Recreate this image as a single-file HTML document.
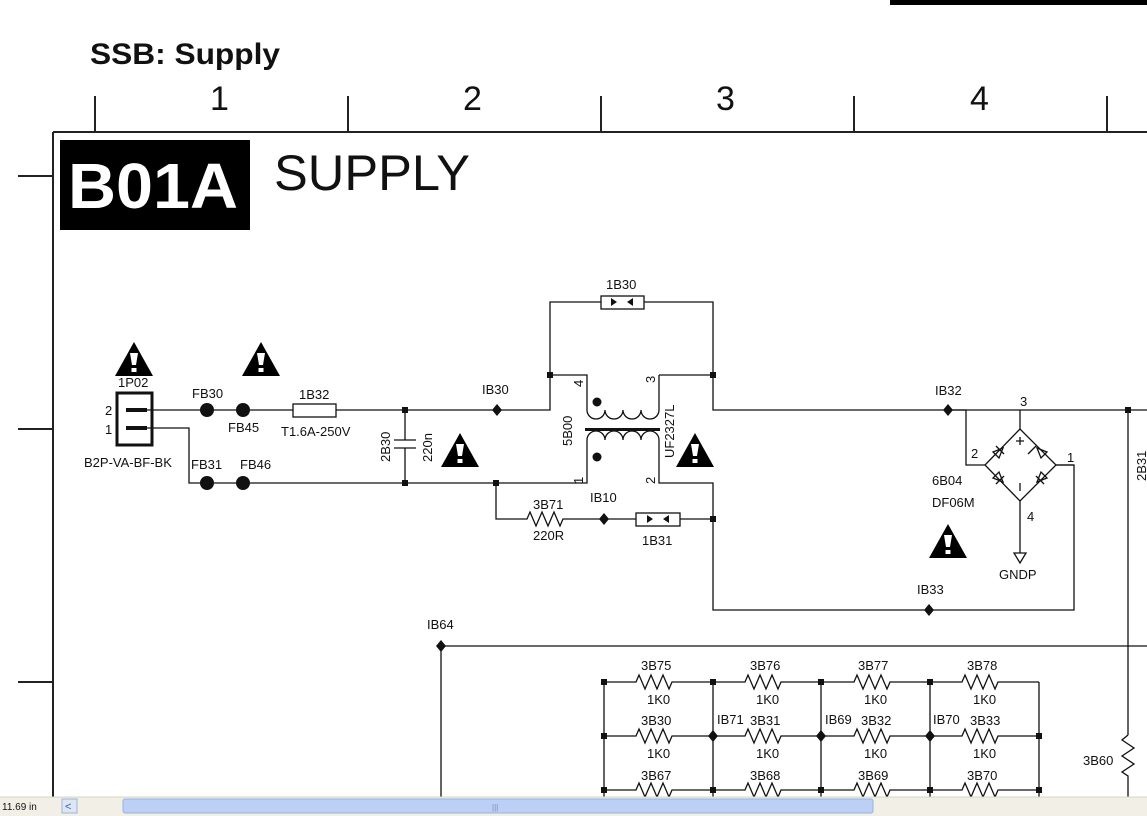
<!DOCTYPE html>
<html><head><meta charset="utf-8"><style>
html,body{margin:0;padding:0;background:#fff;width:1147px;height:816px;overflow:hidden}
svg{display:block}
text{font-family:"Liberation Sans",Arial,sans-serif;fill:#111}
</style></head><body>
<svg width="1147" height="816" viewBox="0 0 1147 816" xmlns="http://www.w3.org/2000/svg">
<defs>
<g id="warn"><polygon points="-19,17 0,-17 19,17" fill="#000"/><polygon points="-4,-6 4,-6 2,6 -2,6" fill="#fff"/><rect x="-2.5" y="9" width="5" height="4" fill="#fff"/></g>
</defs>
<rect x="890" y="0" width="257" height="5" fill="#000"/>
<text x="90" y="64" font-size="30" font-weight="bold" textLength="190" lengthAdjust="spacingAndGlyphs">SSB: Supply</text>
<g stroke="#222" stroke-width="2" fill="none">
<path d="M95 96V132M348 96V132M601 96V132M854 96V132M1107 96V132"/>
<path d="M53 132H1147M53 132V797M18 176H53M18 429H53M18 682H53"/>
</g>
<g font-size="34" fill="#222"><text x="210" y="110">1</text><text x="463" y="110">2</text><text x="716" y="110">3</text><text x="970" y="110">4</text></g>
<rect x="60" y="140" width="190" height="90" fill="#000"/>
<text x="68" y="208" font-size="64" font-weight="bold" style="fill:#fff" textLength="170" lengthAdjust="spacingAndGlyphs">B01A</text>
<text x="274" y="190" font-size="50" fill="#222" textLength="196" lengthAdjust="spacingAndGlyphs">SUPPLY</text>

<g stroke="#111" stroke-width="1.3" fill="none">
<path d="M147 410H293M336 410H550V302H601M644 302H713V410H1147"/>
<path d="M147 428H189V483H587V450"/>
<path d="M550 375H587V392M659 375H713M659 375V392"/>
<path d="M659 450V483H713V610H1074V465H1056"/>
<path d="M496 483V519H527l3 -7 l6 14 l6 -14 l6 14 l6 -14 l6 14 l3 -7 H636M680 519H713"/>
<path d="M405 410V440M405 448V483M394 440H416M394 448H416"/>
<path d="M587 392V410 a9 9 0 0 0 18 0 a9 9 0 0 0 18 0 a9 9 0 0 0 18 0 a9 9 0 0 0 18 0V392"/>
<path d="M587 450V440 a9 9 0 0 1 18 0 a9 9 0 0 1 18 0 a9 9 0 0 1 18 0 a9 9 0 0 1 18 0V450"/>
<rect x="293" y="404" width="43" height="13"/>
<rect x="601" y="296" width="43" height="13"/>
<rect x="636" y="513" width="44" height="13"/>
<path d="M948 410H966V465H985M1020 410V429M1020 501V553M1074 465H1056"/>
<path d="M1020 429L985 465L1020 501L1056 465Z"/>
<path d="M1014 553h12l-6 10z"/>
<path d="M1016 441h8M1020 437v8M1020 483v8"/>
<path d="M996 446l8 8M1036 446l-8 8M996 484l8-8M1044 484l-8-8"/>
<path d="M1003 448l-10 4l6 6zM1037 448l10 4l-6 6zM1003 482l-10-4l6-6zM1037 482l10-4l-6-6z"/>
<path d="M441 646H1147M441 646V797M1128 735l-6 5 l12 8 l-12 8 l12 8 l-12 8 l6 4 V797M1128 410V735"/>
<path d="M604 682V797M713 682V797M821 682V797M930 682V797M1039 682V797"/>
</g>
<g stroke="#111" stroke-width="1.3" fill="none">
<path d="M604 682H636l3 -7 l6 14 l6 -14 l6 14 l6 -14 l6 14 l3 -7 H713H745l3 -7 l6 14 l6 -14 l6 14 l6 -14 l6 14 l3 -7 H821H854l3 -7 l6 14 l6 -14 l6 14 l6 -14 l6 14 l3 -7 H930H962l3 -7 l6 14 l6 -14 l6 14 l6 -14 l6 14 l3 -7 H1039"/>
<path d="M604 736H636l3 -7 l6 14 l6 -14 l6 14 l6 -14 l6 14 l3 -7 H713H745l3 -7 l6 14 l6 -14 l6 14 l6 -14 l6 14 l3 -7 H821H854l3 -7 l6 14 l6 -14 l6 14 l6 -14 l6 14 l3 -7 H930H962l3 -7 l6 14 l6 -14 l6 14 l6 -14 l6 14 l3 -7 H1039"/>
<path d="M604 790H636l3 -7 l6 14 l6 -14 l6 14 l6 -14 l6 14 l3 -7 H713H745l3 -7 l6 14 l6 -14 l6 14 l6 -14 l6 14 l3 -7 H821H854l3 -7 l6 14 l6 -14 l6 14 l6 -14 l6 14 l3 -7 H930H962l3 -7 l6 14 l6 -14 l6 14 l6 -14 l6 14 l3 -7 H1039"/>
</g>
<rect x="117" y="393" width="35" height="52" fill="none" stroke="#111" stroke-width="3"/>
<rect x="126" y="408" width="21" height="4" fill="#111"/><rect x="126" y="426" width="21" height="4" fill="#111"/>
<rect x="585" y="428" width="75" height="3" fill="#111"/>
<g fill="#111">
<circle cx="207" cy="410" r="7"/><circle cx="243" cy="410" r="7"/><circle cx="207" cy="483" r="7"/><circle cx="243" cy="483" r="7"/>
<circle cx="597" cy="402" r="4.5"/><circle cx="597" cy="457" r="4.5"/>
<rect x="402" y="407" width="6" height="6"/><rect x="402" y="480" width="6" height="6"/><rect x="493" y="480" width="6" height="6"/>
<rect x="547" y="372" width="6" height="6"/><rect x="710" y="372" width="6" height="6"/><rect x="710" y="516" width="6" height="6"/><rect x="1125" y="407" width="6" height="6"/>
<path d="M497 404l5 6l-5 6l-5-6zM604 513l5 6l-5 6l-5-6zM948 404l5 6l-5 6l-5-6zM929 604l5 6l-5 6l-5-6zM441 640l5 6l-5 6l-5-6z"/>
<path d="M713 730l5 6l-5 6l-5-6zM821 730l5 6l-5 6l-5-6zM930 730l5 6l-5 6l-5-6z"/>
<path d="M617 302l-6-4v8zM627 302l6-4v8zM653 519l-6-4v8zM663 519l6-4v8z"/>
<rect x="601" y="679" width="6" height="6"/><rect x="710" y="679" width="6" height="6"/><rect x="818" y="679" width="6" height="6"/><rect x="927" y="679" width="6" height="6"/>
<rect x="601" y="733" width="6" height="6"/><rect x="1036" y="733" width="6" height="6"/>
<rect x="601" y="787" width="6" height="6"/><rect x="710" y="787" width="6" height="6"/><rect x="818" y="787" width="6" height="6"/><rect x="927" y="787" width="6" height="6"/><rect x="1036" y="787" width="6" height="6"/>
</g>
<use href="#warn" x="134" y="359"/><use href="#warn" x="261" y="359"/><use href="#warn" x="460" y="450"/><use href="#warn" x="695" y="450"/><use href="#warn" x="948" y="541"/>
<g font-size="13">
<text x="118" y="387">1P02</text><text x="105" y="415">2</text><text x="105" y="434">1</text><text x="84" y="467">B2P-VA-BF-BK</text>
<text x="192" y="398">FB30</text><text x="228" y="432">FB45</text><text x="191" y="469">FB31</text><text x="240" y="469">FB46</text>
<text x="299" y="399">1B32</text><text x="281" y="436">T1.6A-250V</text>
<text transform="translate(390,462) rotate(-90)">2B30</text><text transform="translate(432,462) rotate(-90)">220n</text>
<text x="482" y="394">IB30</text><text x="606" y="289">1B30</text>
<text transform="translate(583,387) rotate(-90)">4</text><text transform="translate(655,383) rotate(-90)">3</text>
<text transform="translate(583,484) rotate(-90)">1</text><text transform="translate(655,484) rotate(-90)">2</text>
<text transform="translate(572,446) rotate(-90)">5B00</text><text transform="translate(674,458) rotate(-90)">UF2327L</text>
<text x="590" y="502">IB10</text><text x="533" y="509">3B71</text><text x="533" y="540">220R</text><text x="642" y="545">1B31</text>
<text x="935" y="395">IB32</text><text x="1020" y="406">3</text><text x="971" y="458">2</text><text x="1067" y="462">1</text><text x="1027" y="521">4</text>
<text x="932" y="485">6B04</text><text x="932" y="507">DF06M</text><text x="999" y="579">GNDP</text><text x="917" y="594">IB33</text>
<text transform="translate(1146,481) rotate(-90)">2B31</text>
<text x="427" y="629">IB64</text><text x="1083" y="765">3B60</text>
<text x="641" y="670">3B75</text><text x="750" y="670">3B76</text><text x="858" y="670">3B77</text><text x="967" y="670">3B78</text>
<text x="647" y="704">1K0</text><text x="756" y="704">1K0</text><text x="864" y="704">1K0</text><text x="973" y="704">1K0</text>
<text x="641" y="725">3B30</text><text x="750" y="725">3B31</text><text x="861" y="725">3B32</text><text x="970" y="725">3B33</text>
<text x="717" y="724">IB71</text><text x="825" y="724">IB69</text><text x="933" y="724">IB70</text>
<text x="647" y="758">1K0</text><text x="756" y="758">1K0</text><text x="864" y="758">1K0</text><text x="973" y="758">1K0</text>
<text x="641" y="780">3B67</text><text x="750" y="780">3B68</text><text x="858" y="780">3B69</text><text x="967" y="780">3B70</text>
</g>
<rect x="0" y="797" width="1147" height="19" fill="#f1efe6"/>
<line x1="0" y1="797" x2="1147" y2="797" stroke="#d8d4c4"/>
<text x="2" y="810" font-size="10">11.69 in</text>
<rect x="62" y="799" width="15" height="14" fill="#dde6f5" stroke="#9fb3d6"/>
<text x="65" y="810" font-size="11" style="fill:#3a5fa8">&lt;</text>
<rect x="123" y="799" width="750" height="14" rx="2" fill="#bcd0f5" stroke="#98b2e6"/>
<text x="492" y="810" font-size="8" style="fill:#7890c0">|||</text>
</svg>
</body></html>
